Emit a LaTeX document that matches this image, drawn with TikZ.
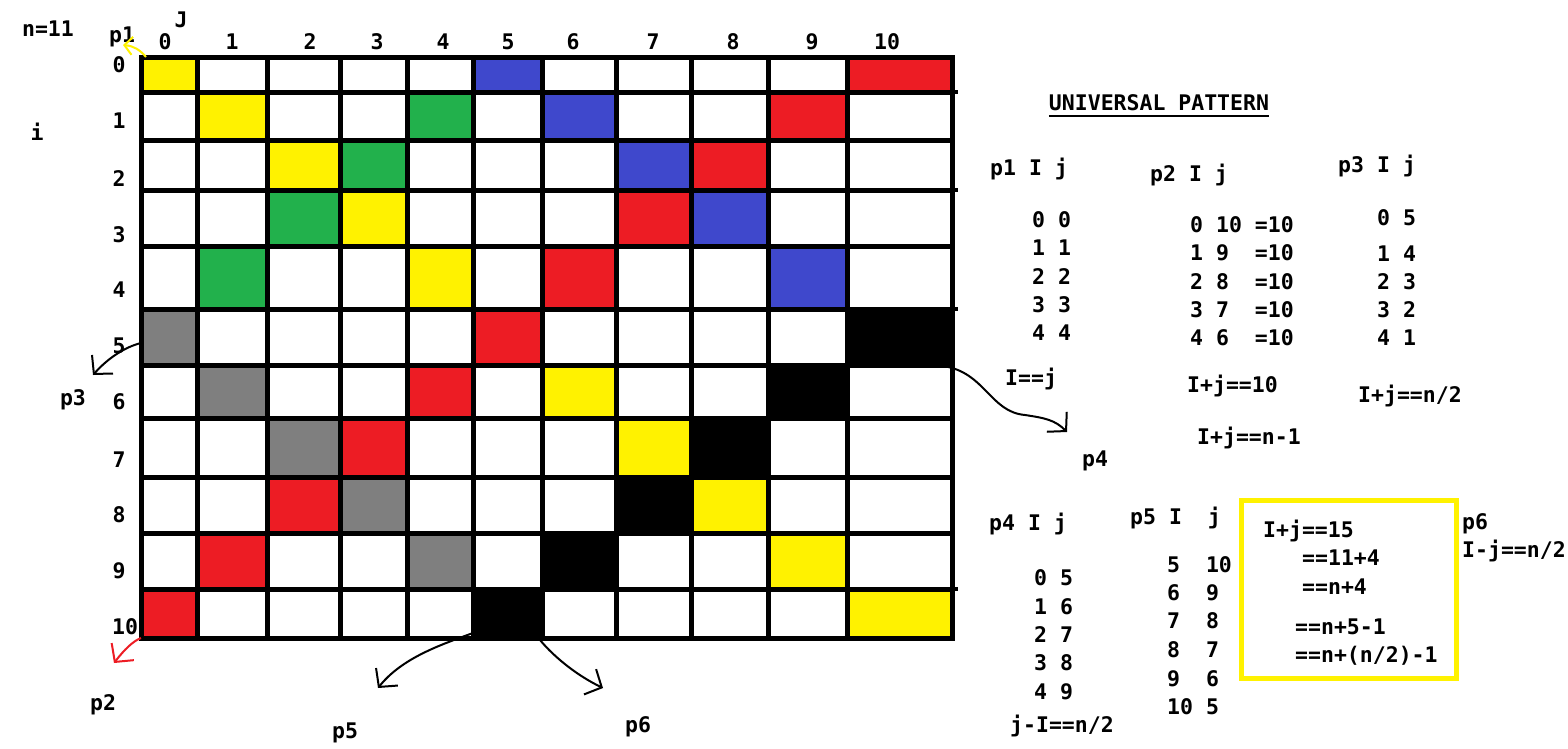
\documentclass[tikz,border=0pt]{standalone}
\usepackage{fontspec}
\setmonofont{DejaVu Sans Mono}
\usetikzlibrary{arrows.meta,positioning}
\definecolor{pyel}{RGB}{255,242,0}
\definecolor{pblue}{RGB}{63,72,204}
\definecolor{pred}{RGB}{237,28,36}
\definecolor{pgreen}{RGB}{34,177,76}
\definecolor{pgray}{RGB}{127,127,127}

\begin{document}
\begin{tikzpicture}[
    x=1pt,y=-1pt,
    lbl/.style={font=\ttfamily\bfseries\fontsize{21.5}{26}\selectfont,
                inner sep=0pt,text height=15pt,text depth=0pt},
    lft/.style={lbl,anchor=west},
    grd/.style={line width=5pt,line cap=rect},
    scrib/.style={line width=2pt,-{Straight Barb[length=13pt,width=28pt]}}
  ]
    \useasboundingbox[fill=white] (0,0) rectangle (1568,748);

    % grid boundaries
    \foreach \x [count=\k from 0] in {141,197,267,340,407,473,542,616,691,768,847,952}
      \coordinate (c\k) at (\x,0);
    \foreach \y [count=\k from 0] in {57,92,140,190,246,309,365,418,477,533,589,638}
      \coordinate (r\k) at (0,\y);

    % coloured cells
    \foreach \i/\j/\c in {0/0/pyel,0/5/pblue,0/10/pred,
        1/1/pyel,1/4/pgreen,1/6/pblue,1/9/pred,
        2/2/pyel,2/3/pgreen,2/7/pblue,2/8/pred,
        3/2/pgreen,3/3/pyel,3/7/pred,3/8/pblue,
        4/1/pgreen,4/4/pyel,4/6/pred,4/9/pblue,
        5/0/pgray,5/5/pred,5/10/black,
        6/1/pgray,6/4/pred,6/6/pyel,6/9/black,
        7/2/pgray,7/3/pred,7/7/pyel,7/8/black,
        8/2/pred,8/3/pgray,8/7/black,8/8/pyel,
        9/1/pred,9/4/pgray,9/6/black,9/9/pyel,
        10/0/pred,10/5/black,10/10/pyel}{
      \pgfmathtruncatemacro\ii{\i+1}
      \pgfmathtruncatemacro\jj{\j+1}
      \fill[\c] (c\j |- r\i) rectangle (c\jj |- r\ii);
    }
    \foreach \k in {0,...,11}{
      \draw[grd] (c\k |- r0) -- (c\k |- r11);
      \draw[grd] (c0 |- r\k) -- (c11 |- r\k);
    }
    % stray line ends on the right
    \foreach \k in {1,3,5,10}
      \draw[line width=4pt] (c11 |- r\k) -- ++(6,0);

    % indices
    \node[lbl] (n) at (48,29) {n=11};
    \node[lbl] (J) at (181,20) {J};
    \node[lbl] (i) at (37,133) {i};
    \foreach \x/\t in {165/0,232/1,310/2,377/3,443/4,508/5,573/6,653/7,733/8,812/9,887/10}
      \node[lbl] (col\t) at (\x,42) {\t};
    \foreach \y/\t in {65/0,121/1,179/2,235/3,290/4,346/5,402/6,460/7,515/8,571/9}
      \node[lbl] (row\t) at (119,\y) {\t};
    \node[lbl] (row10) at (125,627) {10};

    % pattern labels
    \node[lbl] (p1) at (122,35) {p1};
    \node[lbl] (p3) at (73,398) {p3};
    \node[lbl] (p2) at (103,703) {p2};
    \node[lbl] (p5) at (345,731) {p5};
    \node[lbl] (p6) at (638,725) {p6};
    \node[lbl] (p4) at (1095,459) {p4};

    % hand arrows
    \coordinate (a1s) at (146,57);  \coordinate (a1e) at (123,45);
    \coordinate (a3s) at (141,343); \coordinate (a3e) at (93,375);
    \coordinate (a2s) at (141,638); \coordinate (a2e) at (114,663);
    \coordinate (a5s) at (473,633); \coordinate (a5e) at (378,688);
    \coordinate (a6s) at (540,640); \coordinate (a6e) at (603,688);
    \coordinate (a4s) at (943,366); \coordinate (a4e) at (1067,432);
    \draw[pyel,line width=2pt,-{Straight Barb[length=8pt,width=18pt]}]
      (a1s) .. controls (140,50) and (134,46) .. (a1e);
    \draw[scrib] (a3s) .. controls (125,347) and (108,358) .. (a3e);
    \draw[scrib,pred] (a2s) .. controls (133,641) and (124,650) .. (a2e);
    \draw[scrib] (a5s) .. controls (440,645) and (402,658) .. (a5e);
    \draw[scrib] (a6s) .. controls (555,658) and (578,676) .. (a6e);
    \draw[scrib] (a4s) .. controls (985,372) and (990,412) .. (1025,415)
      .. controls (1045,418) and (1055,420) .. (a4e);

    % universal pattern
    \node[lbl] (title) at (1159,103) {UNIVERSAL PATTERN};
    \draw[line width=2pt] ([yshift=-5.5pt]title.south west) -- ([yshift=-5.5pt]title.south east);

    \node[lft] (h1) at (990,168) {p1 I j};
    \node[lft] (h2) at (1150,174) {p2 I j};
    \node[lft] (h3) at (1338,165) {p3 I j};
    \foreach \y/\t in {220/0 0,248/1 1,277/2 2,305/3 3,333/4 4}
      \node[lft] at (1032,\y) {\t};
    \foreach \y/\t in {225/0 10 =10,253/1 9\ \ =10,282/2 8\ \ =10,310/3 7\ \ =10,338/4 6\ \ =10}
      \node[lft] at (1190,\y) {\t};
    \foreach \y/\t in {218/0 5,254/1 4,282/2 3,310/3 2,338/4 1}
      \node[lft] at (1377,\y) {\t};
    \node[lft] (eq1) at (1005,378) {I==j};
    \node[lft] (eq2) at (1187,385) {I+j==10};
    \node[lft] (eq2b) at (1197,437) {I+j==n-1};
    \node[lft] (eq3) at (1358,395) {I+j==n/2};

    \node[lft] (h4) at (989,523) {p4 I j};
    \node[lft] (h5) at (1130,517) {p5 I\ \ j};
    \foreach \y/\t in {578/0 5,607/1 6,635/2 7,663/3 8,692/4 9}
      \node[lft] at (1034,\y) {\t};
    \node[lft] (eq4) at (1010,725) {j-I==n/2};
    \foreach \y/\t in {565/5\ \ 10,593/6\ \ 9,621/7\ \ 8,650/8\ \ 7,679/9\ \ 6,707/10 5}
      \node[lft] at (1167,\y) {\t};

    \draw[pyel,line width=5pt] (1241,500) rectangle (1456,678);
    \node[lft] (b1) at (1263,530) {I+j==15};
    \node[lft] (b2) at (1302,558) {==11+4};
    \node[lft] (b3) at (1302,587) {==n+4};
    \node[lft] (b4) at (1295,627) {==n+5-1};
    \node[lft] (b5) at (1295,655) {==n+(n/2)-1};
    \node[lft] (h6) at (1462,522) {p6};
    \node[lft] (eq6) at (1462,550) {I-j==n/2};
\end{tikzpicture}
\end{document}
